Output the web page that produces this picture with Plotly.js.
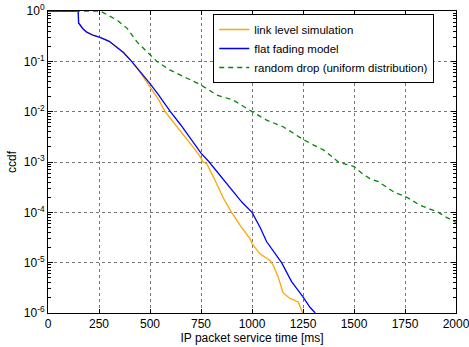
<!DOCTYPE html>
<html>
<head>
<meta charset="utf-8">
<script src="https://cdn.plot.ly/plotly-3.0.1.min.js"></script>
<style>html,body{margin:0;padding:0;background:#fff;}#plot{width:469px;height:347px;}</style>
</head>
<body>
<div id="plot"></div>
<script>
// link level simulation (orange)
const linkX = [0, 148, 150, 170, 190, 220, 255, 300, 337, 370, 410, 450, 500, 540, 574, 620, 660, 700, 740, 760, 778, 818, 860, 900, 941, 990, 1000, 1039, 1088, 1104, 1128, 1153, 1186, 1227, 1243, 1248];
const linkY = [1, 1, 0.58, 0.45, 0.38, 0.33, 0.30, 0.25, 0.19, 0.15, 0.10, 0.062, 0.031, 0.018, 0.01, 0.0058, 0.0037, 0.0023, 0.0014, 0.001, 9.3e-4, 4.4e-4, 1.9e-4, 1e-4, 5.6e-5, 3e-5, 2.4e-5, 1.5e-5, 1.1e-5, 8.9e-6, 5.2e-6, 2.5e-6, 1.95e-6, 1.66e-6, 1.15e-6, 1e-6];
// flat fading model (blue)
const flatX = [0, 148, 150, 170, 190, 220, 255, 300, 337, 370, 410, 450, 500, 540, 582, 600, 650, 700, 750, 790, 830, 870, 910, 950, 1000, 1040, 1072, 1110, 1145, 1194, 1235, 1250, 1284, 1310];
const flatY = [1, 1, 0.58, 0.45, 0.38, 0.33, 0.30, 0.25, 0.19, 0.15, 0.10, 0.065, 0.036, 0.022, 0.0126, 0.01, 0.0055, 0.0028, 0.0015, 0.001, 6.3e-4, 4e-4, 2.6e-4, 1.6e-4, 1e-4, 5e-5, 2.6e-5, 1.6e-5, 1e-5, 4.2e-6, 2.6e-6, 2.1e-6, 1.3e-6, 1e-6];
// random drop (uniform distribution) (green dashed), log10 values
const randX = [0, 255, 338, 387, 435, 500, 533, 597, 680, 750, 827, 908, 1000, 1072, 1153, 1186, 1250, 1300, 1350, 1382, 1423, 1500, 1537, 1578, 1619, 1660, 1701, 1750, 1782, 1824, 1864, 1913, 1954, 2000];
const randLog = [0, 0, -0.18, -0.34, -0.61, -0.87, -1.0, -1.17, -1.34, -1.47, -1.67, -1.77, -2.0, -2.17, -2.30, -2.39, -2.55, -2.66, -2.76, -2.86, -3.0, -3.09, -3.22, -3.33, -3.39, -3.50, -3.61, -3.68, -3.76, -3.86, -3.92, -4.0, -4.10, -4.20];
const randY = randLog.map(v => Math.pow(10, v));

const seriesNames = ["link level simulation", "flat fading model", "random drop (uniform distribution)"];
const xTicks = [0, 250, 500, 750, 1000, 1250, 1500, 1750, 2000];
const yExp = [-6, -5, -4, -3, -2, -1, 0];

const yTickVals = yExp.map(e => Math.pow(10, e));
const yTickText = yExp.map(e => "10<sup>" + e + "</sup>");
const minorVals = [];
for (let e = -6; e < 0; e++) for (let m = 2; m <= 9; m++) minorVals.push(m * Math.pow(10, e));

const font = {family: "Liberation Sans, Arial, sans-serif", size: 12, color: "#000"};
const legFont = {family: "Liberation Sans, Arial, sans-serif", size: 11.5, color: "#000"};

const traces = [
  {x: linkX, y: linkY, name: seriesNames[0], mode: "lines", line: {color: "#ffa500", width: 1.3}},
  {x: flatX, y: flatY, name: seriesNames[1], mode: "lines", line: {color: "#0000ff", width: 1.3}},
  {x: randX, y: randY, name: seriesNames[2], mode: "lines", line: {color: "#008800", width: 1.3, dash: "5px,4px"}}
];

const layout = {
  width: 469, height: 347,
  margin: {l: 48, r: 13, t: 11, b: 34},
  paper_bgcolor: "#fff", plot_bgcolor: "#fff",
  font: font,
  showlegend: true,
  legend: {x: 0.405, y: 0.99, xanchor: "left", yanchor: "top", bgcolor: "#fff", bordercolor: "#000", borderwidth: 1, font: legFont, tracegroupgap: 0},
  xaxis: {
    range: [0, 2000], tickmode: "array", tickvals: xTicks, ticktext: xTicks.map(String),
    ticks: "inside", ticklen: 4, tickcolor: "#000", tickfont: font, ticklabeloverflow: "allow",
    showline: true, linecolor: "#000", linewidth: 1, mirror: "ticks",
    showgrid: true, gridcolor: "#777", griddash: "dot", gridwidth: 1, zeroline: false,
    title: {text: "IP packet service time [ms]", font: font, standoff: 2}
  },
  yaxis: {
    type: "log", range: [-6, 0], tickmode: "array", tickvals: yTickVals, ticktext: yTickText,
    ticks: "inside", ticklen: 5, tickcolor: "#000", tickfont: font, ticklabeloverflow: "allow",
    minor: {tickmode: "array", tickvals: minorVals, ticks: "inside", ticklen: 3, tickcolor: "#000", showgrid: false},
    showline: true, linecolor: "#000", linewidth: 1, mirror: "ticks",
    showgrid: true, gridcolor: "#777", griddash: "dot", gridwidth: 1, zeroline: false,
    title: {text: "ccdf", font: font, standoff: 4}
  }
};

Plotly.newPlot("plot", traces, layout, {displayModeBar: false, staticPlot: true});
</script>
</body>
</html>
